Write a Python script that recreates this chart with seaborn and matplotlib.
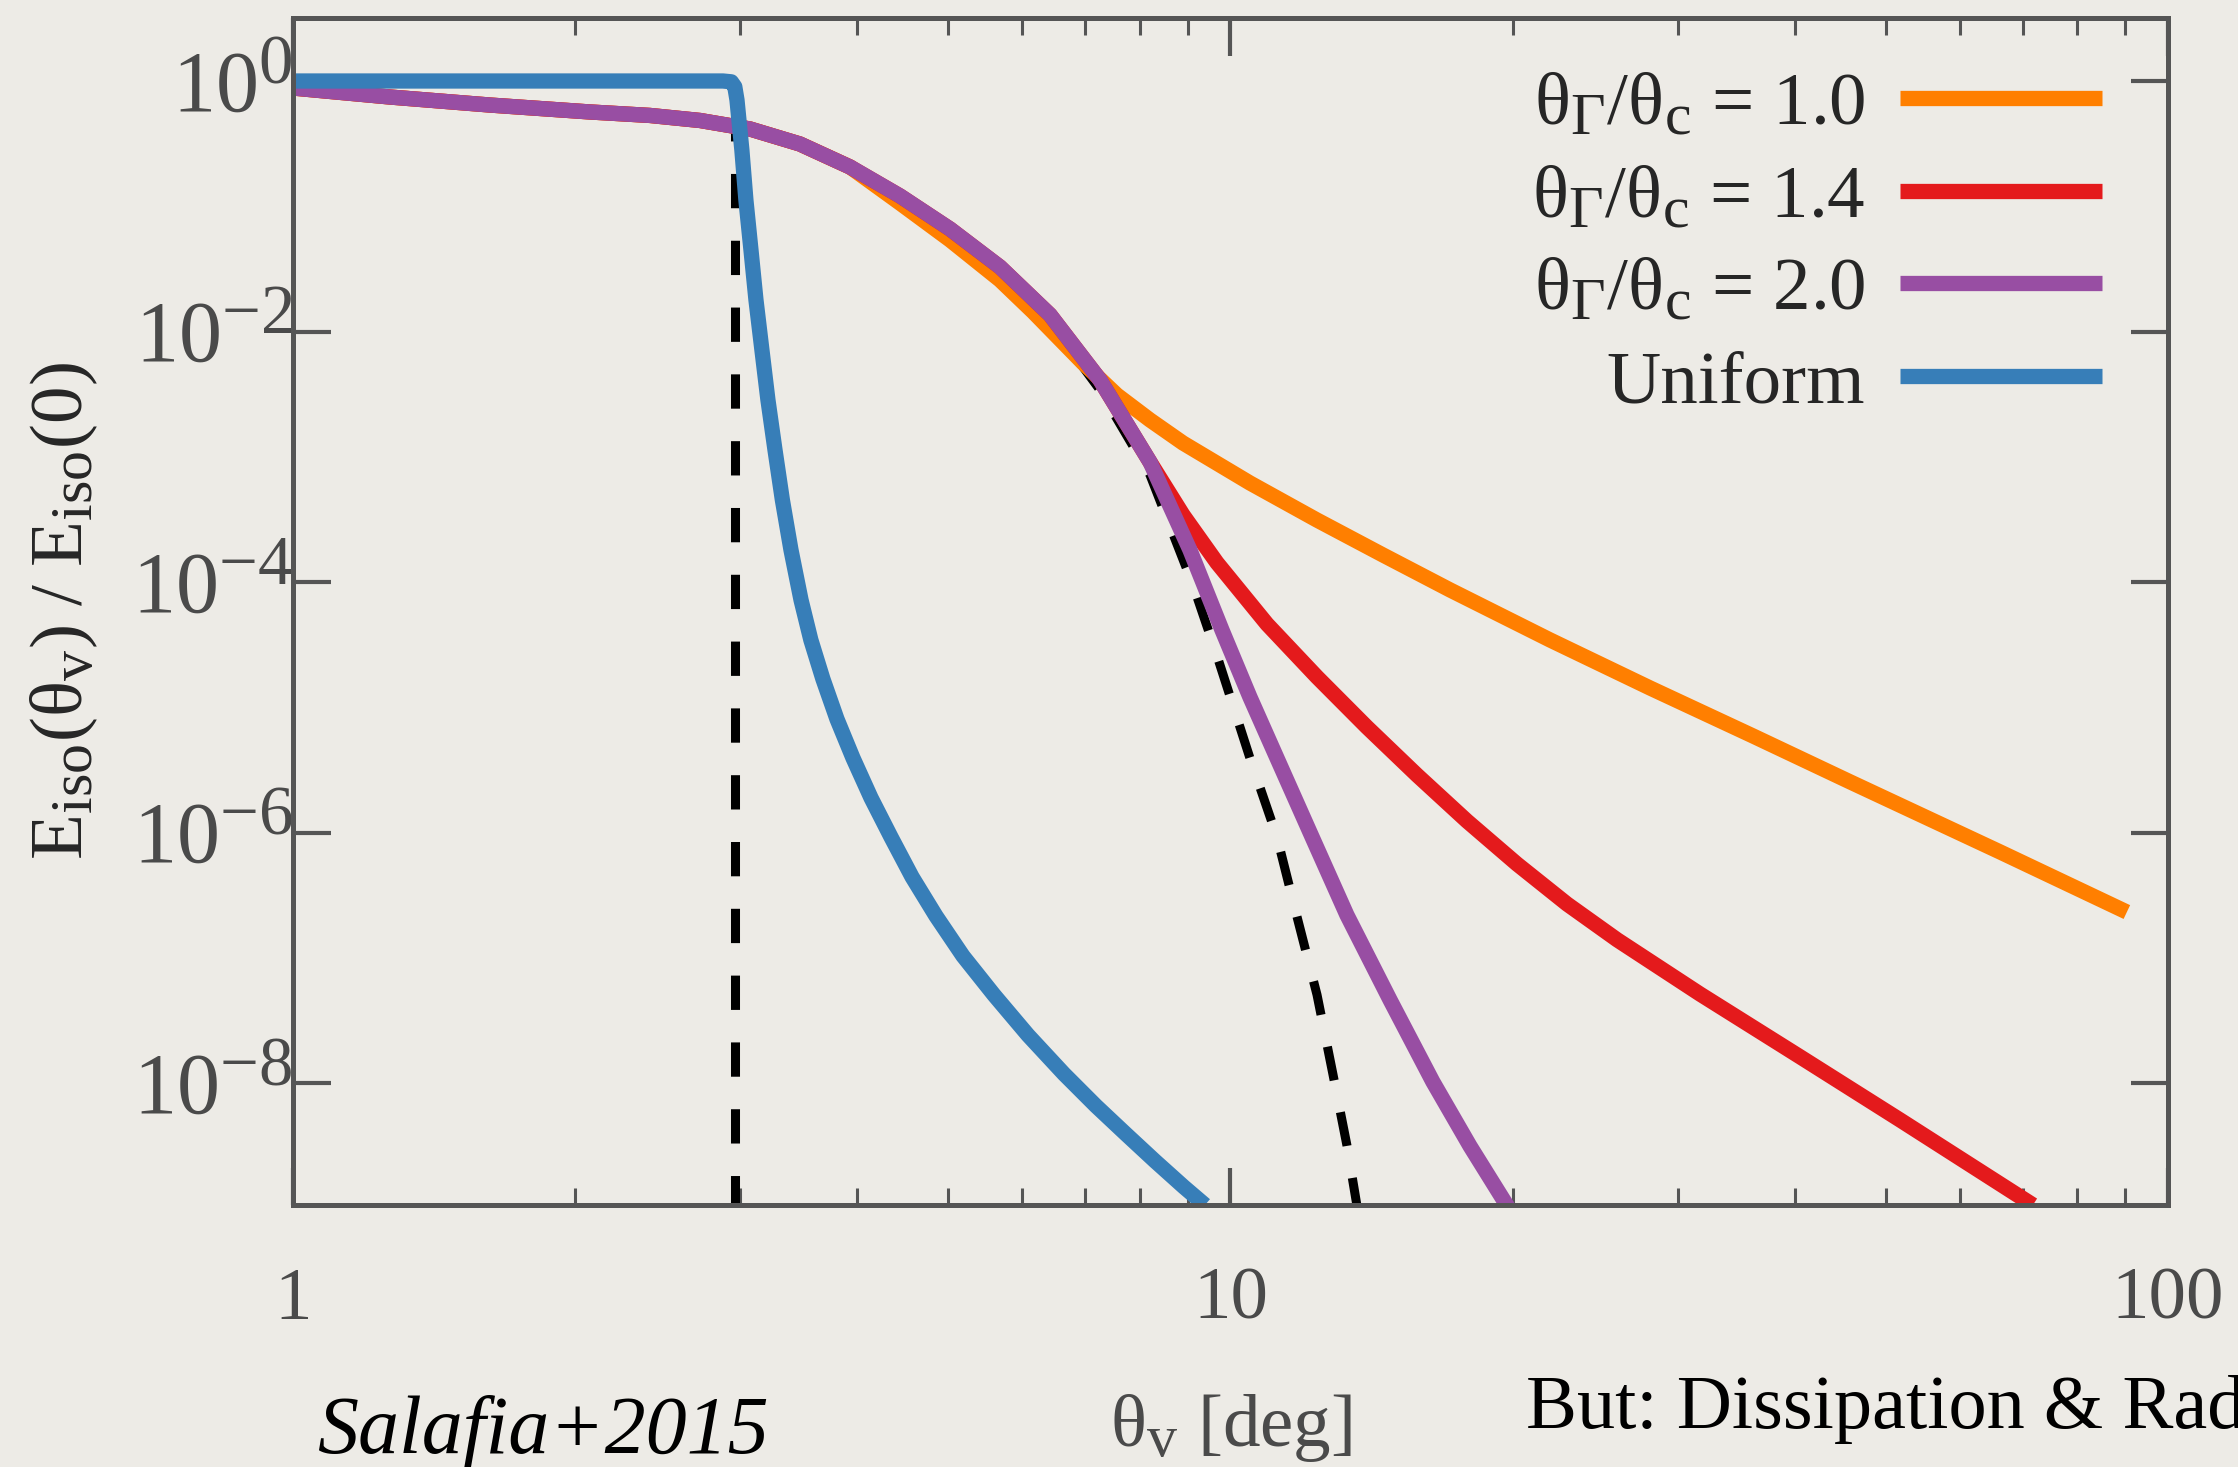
import numpy as np
import pandas as pd
import matplotlib
matplotlib.use("Agg")
import matplotlib.pyplot as plt
import matplotlib._mathtext as _mt
from matplotlib.ticker import FixedLocator, FixedFormatter, NullLocator, NullFormatter, LogLocator
import seaborn as sns

# ---- data: isotropic-equivalent energy vs viewing angle -------------------
theta_10 = [1.0, 1.269, 1.622, 2.074, 2.403, 2.718, 3.073, 3.474, 3.928, 4.441,
            5.022, 5.677, 6.157, 6.962, 7.566, 8.207, 8.900, 10.49, 12.37, 14.54,
            17.15, 21.92, 28.03, 36.08, 45.80, 66.21, 90.4]
E_10 = [0.879, 0.745, 0.643, 0.566, 0.531, 0.484, 0.414, 0.314, 0.206, 0.106,
        5.38e-2, 2.58e-2, 1.44e-2, 5.62e-3, 3.12e-3, 1.97e-3, 1.29e-3, 6.19e-4,
        3.13e-4, 1.65e-4, 8.67e-5, 3.46e-5, 1.43e-5, 5.93e-6, 2.55e-6, 7.03e-7,
        2.33e-7]

theta_14 = [1.0, 1.269, 1.622, 2.074, 2.403, 2.718, 3.073, 3.474, 3.928, 4.441,
            5.022, 5.677, 6.420, 7.258, 8.207, 8.900, 9.674, 10.94, 12.37, 13.98,
            15.81, 17.88, 20.21, 22.86, 25.85, 31.68, 40.51, 51.78, 71.78]
E_14 = [0.879, 0.745, 0.643, 0.566, 0.531, 0.484, 0.414, 0.314, 0.206, 0.121,
        6.59e-2, 3.28e-2, 1.36e-2, 4.11e-3, 9.10e-4, 3.44e-4, 1.43e-4, 4.63e-5,
        1.75e-5, 6.98e-6, 2.89e-6, 1.24e-6, 5.64e-7, 2.70e-7, 1.40e-7, 5.17e-8,
        1.63e-8, 5.11e-9, 1.07e-9]

theta_20 = [1.0, 1.269, 1.622, 2.074, 2.403, 2.718, 3.073, 3.474, 3.928, 4.441,
            5.022, 5.677, 6.420, 7.258, 8.207, 9.052, 9.793, 10.49, 11.21, 12.22,
            13.31, 14.80, 16.44, 18.01, 19.77]
E_20 = [0.879, 0.745, 0.643, 0.566, 0.531, 0.484, 0.414, 0.314, 0.206, 0.121,
        6.59e-2, 3.28e-2, 1.36e-2, 4.11e-3, 9.10e-4, 1.81e-4, 4.16e-5, 1.21e-5,
        3.95e-6, 9.25e-7, 2.21e-7, 4.63e-8, 1.03e-8, 3.16e-9, 1.03e-9]

theta_uni = [1.0, 2.875, 2.935, 2.960, 2.976, 3.012, 3.042, 3.080, 3.118, 3.164,
             3.211, 3.267, 3.327, 3.398, 3.483, 3.568, 3.675, 3.804, 3.957, 4.136,
             4.344, 4.575, 4.851, 5.184, 5.595, 6.081, 6.644, 7.187, 7.736, 8.309,
             8.920, 9.394]
E_uni = [1.0, 1.0, 0.985, 0.90, 0.705, 0.281, 0.112, 4.48e-2, 1.79e-2, 7.13e-3,
         2.85e-3, 1.14e-3, 4.53e-4, 1.81e-4, 7.21e-5, 3.46e-5, 1.69e-5, 8.09e-6,
         3.95e-6, 1.90e-6, 9.25e-7, 4.44e-7, 2.17e-7, 1.04e-7, 5.08e-8, 2.43e-8,
         1.19e-8, 6.61e-9, 3.94e-9, 2.40e-9, 1.49e-9, 1.07e-9]

# intrinsic jet structures (dashed): Gaussian and top-hat
theta_gauss = [1.0, 1.269, 1.622, 2.074, 2.403, 2.718, 3.073, 3.474, 3.928, 4.441,
               5.022, 5.677, 6.420, 7.258, 8.207, 9.12, 9.67, 10.49, 11.21, 11.77,
               12.37, 12.86, 13.31, 13.64]
E_gauss = [0.879, 0.745, 0.643, 0.566, 0.531, 0.484, 0.414, 0.314, 0.206, 0.121,
           6.59e-2, 3.10e-2, 1.19e-2, 3.42e-3, 7.18e-4, 9.51e-5, 2.62e-5, 3.95e-6,
           9.27e-7, 2.17e-7, 5.08e-8, 1.19e-8, 3.22e-9, 1.07e-9]
theta_tophat = [1.0, 2.96, 2.96]
E_tophat = [1.0, 1.0, 1.0e-9]

models = ["1.0", "1.4", "2.0", "Uniform"]
legend_labels = [r"$\mathrm{θ_Γ/θ_c}$ = 1.0", r"$\mathrm{θ_Γ/θ_c}$ = 1.4",
                 r"$\mathrm{θ_Γ/θ_c}$ = 2.0", "Uniform"]
colors = ["#ff7f00", "#e41a1c", "#984ea3", "#377eb8"]

xticks = [1, 10, 100]
xtick_labels = ["1", "10", "100"]
yticks = [1e0, 1e-2, 1e-4, 1e-6, 1e-8]
ytick_labels = [r"$10^{0}$", r"$10^{-2}$", r"$10^{-4}$", r"$10^{-6}$", r"$10^{-8}$"]

# ---- tidy frames -----------------------------------------------------------
curves = {"1.0": (theta_10, E_10), "1.4": (theta_14, E_14),
          "2.0": (theta_20, E_20), "Uniform": (theta_uni, E_uni)}
df = pd.concat([pd.DataFrame({"theta": t, "E": e, "model": m})
                for m, (t, e) in curves.items()], ignore_index=True)
df_ref = pd.concat([
    pd.DataFrame({"theta": theta_gauss, "E": E_gauss, "curve": "gauss"}),
    pd.DataFrame({"theta": theta_tophat, "E": E_tophat, "curve": "tophat"}),
], ignore_index=True)

# ---- style -----------------------------------------------------------------
sns.set_style("ticks")
bg = "#EDEBE6"
plt.rcParams["font.family"] = ["Liberation Serif", "DejaVu Serif"]
plt.rcParams["mathtext.fontset"] = "custom"
plt.rcParams["mathtext.rm"] = "Liberation Serif"
plt.rcParams["mathtext.it"] = "Liberation Serif:italic"
plt.rcParams["mathtext.bf"] = "Liberation Serif:bold"
plt.rcParams["figure.facecolor"] = bg
plt.rcParams["axes.facecolor"] = bg
plt.rcParams["savefig.facecolor"] = bg
# larger sub/superscripts, in the manner of gnuplot's enhanced text
_mt.SHRINK_FACTOR = 0.8

fig = plt.figure(figsize=(22.38, 14.67), dpi=100)
ax = fig.add_axes([0.1309, 0.1786, 0.8378, 0.8091])
ax.set_xscale("log")
ax.set_yscale("log")

sns.lineplot(data=df_ref, x="theta", y="E", units="curve", estimator=None, sort=False,
             color="black", lw=6.5, linestyle=(0, (3.8, 3.6)), legend=False,
             ax=ax, zorder=1)
sns.lineplot(data=df, x="theta", y="E", hue="model", hue_order=models,
             palette=dict(zip(models, colors)), estimator=None, sort=False,
             lw=11, legend=False, ax=ax, zorder=2,
             solid_joinstyle="round", solid_capstyle="butt")

ax.set_xlim(1, 100)
ax.set_ylim(1.07e-9, 3.18)

ax.xaxis.set_major_locator(FixedLocator(xticks))
ax.xaxis.set_major_formatter(FixedFormatter(xtick_labels))
ax.xaxis.set_minor_locator(LogLocator(base=10, subs=np.arange(2, 10)))
ax.xaxis.set_minor_formatter(NullFormatter())
ax.yaxis.set_major_locator(FixedLocator(yticks))
ax.yaxis.set_major_formatter(FixedFormatter(ytick_labels))
ax.yaxis.set_minor_locator(NullLocator())

spine_c = "#555555"
for s in ax.spines.values():
    s.set_color(spine_c)
    s.set_linewidth(3.6)
ax.tick_params(which="both", direction="in", top=True, right=True, color=spine_c)
ax.tick_params(which="major", length=27, width=3)
ax.tick_params(which="minor", length=12, width=2.2)
ax.tick_params(axis="x", which="major", pad=45, labelsize=54, labelcolor="#4a4a4a")
ax.tick_params(axis="y", which="major", pad=0, labelsize=62, labelcolor="#4a4a4a")

ax.set_xlabel(r"$\mathrm{θ_v}$ [deg]", fontsize=54, color="#4a4a4a")
ax.xaxis.set_label_coords(0.5, -0.1575)
ax.set_ylabel(r"$\mathrm{E_{iso}(θ_v)\ /\ E_{iso}(0)}$", fontsize=54, color="#262626")
ax.yaxis.set_label_coords(-0.103, 0.5)

handles = ax.get_lines()[-4:]
ax.legend(handles, legend_labels, loc="upper right", bbox_to_anchor=(0.9648, 0.955),
          frameon=False, markerfirst=False, fontsize=54, handlelength=2.69,
          handletextpad=0.467, labelspacing=0.325, borderpad=0, borderaxespad=0)

fig.text(317 / 2238, 1 - 1453 / 1467, "Salafia+2015", fontsize=59, style="italic",
         color="black", va="baseline", ha="left")
fig.text(1526 / 2238, 1 - 1428 / 1467, "But: Dissipation & Radiation", fontsize=55,
         color="black", va="baseline", ha="left")

fig.savefig("out.png", dpi=100)
